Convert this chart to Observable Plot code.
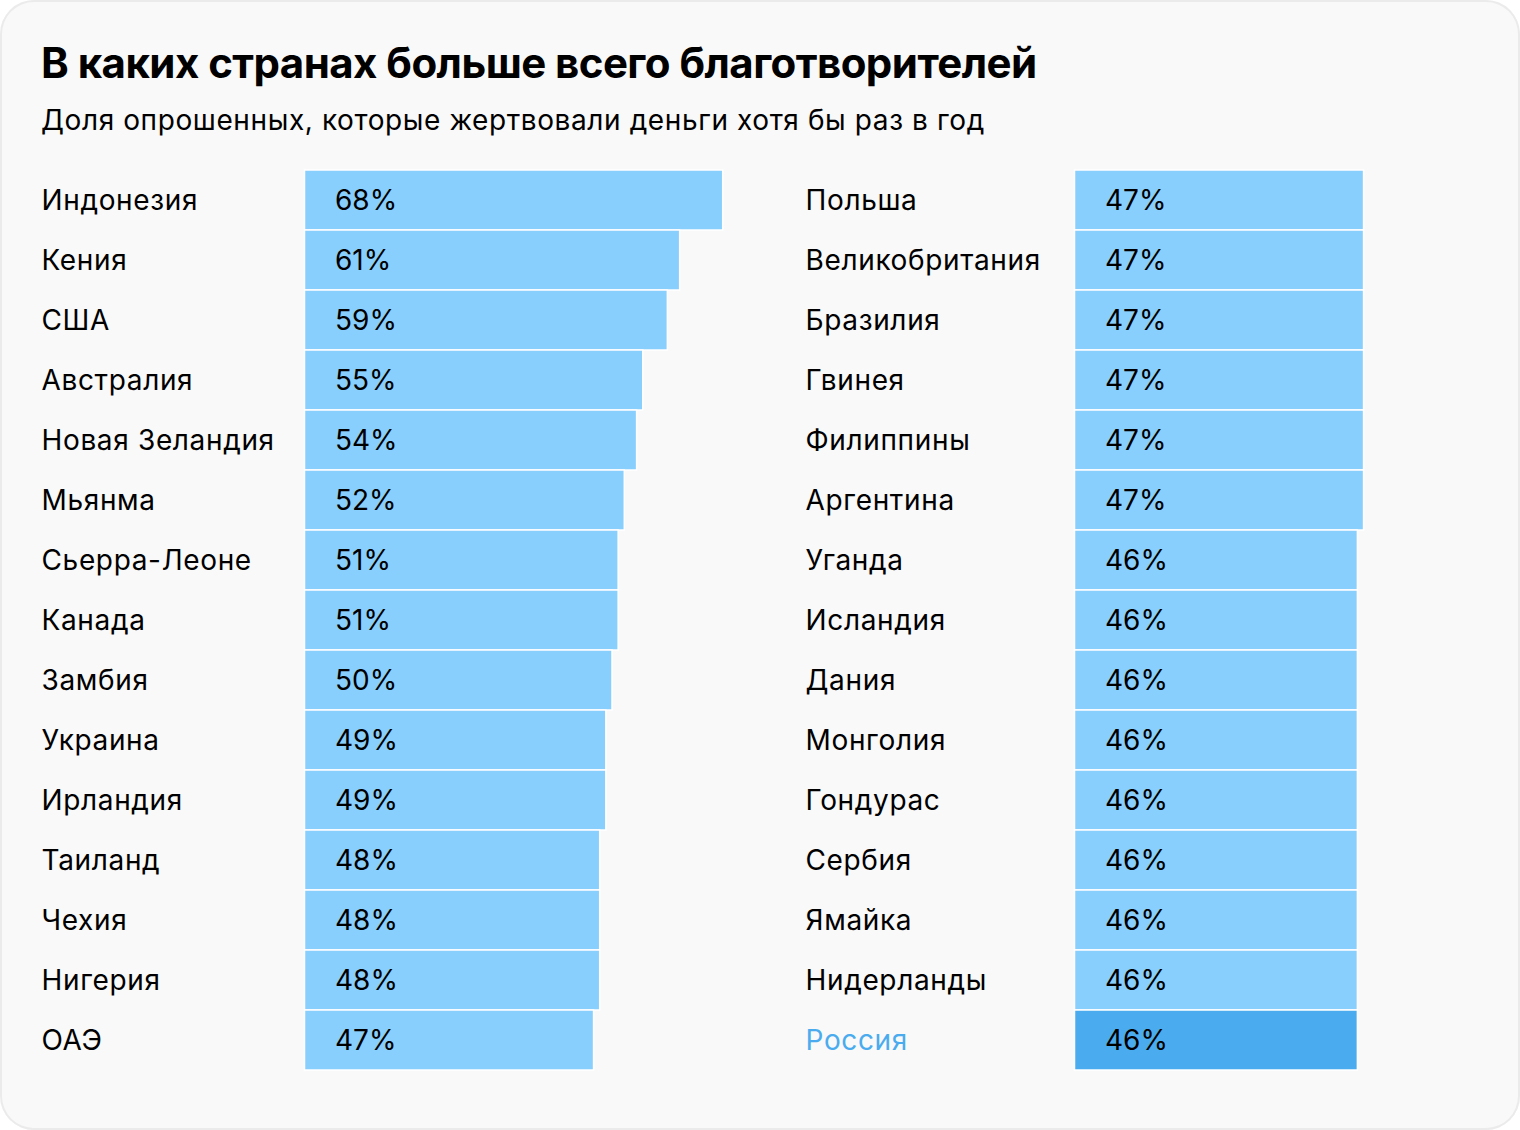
<!DOCTYPE html>
<html>
<head>
<meta charset="utf-8">
<script src="https://cdn.jsdelivr.net/npm/d3@7"></script>
<script src="https://cdn.jsdelivr.net/npm/@observablehq/plot@0.6"></script>
<style>
  html, body { margin: 0; padding: 0; background: #ffffff; }
  #card {
    position: absolute; left: 0; top: 0; width: 1520px; height: 1130px;
    box-sizing: border-box; box-shadow: inset 0 0 0 2px #ebebeb; border-radius: 34px;
    background: #f9f9f9; font-family: Inter, "Noto Sans", sans-serif; overflow: hidden;
  }
  #title {
    position: absolute; left: 41px; top: 39px; margin: 0;
    font-size: 42px; font-weight: 700; line-height: 48px; color: #000; letter-spacing: -0.55px;
    white-space: nowrap;
  }
  #subtitle {
    position: absolute; left: 41px; top: 103px; margin: 0;
    font-size: 28px; font-weight: 400; line-height: 34px; color: #000; white-space: nowrap;
    letter-spacing: 0.6px;
  }
  .col { position: absolute; top: 0; width: 770px; height: 1100px; }
  .col svg { overflow: visible; max-width: none !important; }
</style>
</head>
<body>
<div id="card">
  <div id="title">В каких странах больше всего благотворителей</div>
  <div id="subtitle">Доля опрошенных, которые жертвовали деньги хотя бы раз в год</div>
  <div class="col" id="left" style="left:0px"></div>
  <div class="col" id="right" style="left:770px"></div>
</div>
<script>
const leftCountries = ["Индонезия","Кения","США","Австралия","Новая Зеландия","Мьянма","Сьерра-Леоне","Канада","Замбия","Украина","Ирландия","Таиланд","Чехия","Нигерия","ОАЭ"];
const leftValues = [68,61,59,55,54,52,51,51,50,49,49,48,48,48,47];
const rightCountries = ["Польша","Великобритания","Бразилия","Гвинея","Филиппины","Аргентина","Уганда","Исландия","Дания","Монголия","Гондурас","Сербия","Ямайка","Нидерланды","Россия"];
const rightValues = [47,47,47,47,47,47,46,46,46,46,46,46,46,46,46];
const highlight = "Россия";

const barColor = "#88cffd";
const highlightColor = "#4aacee";

function makeColumn(countries, values, labelOffset) {
  const data = countries.map((c, i) => ({country: c, value: values[i]}));
  const svg = Plot.plot({
    width: 770,
    height: 1100,
    marginLeft: 305,
    marginRight: 0,
    marginTop: 170,
    marginBottom: 30,
    style: {background: "transparent", fontFamily: "Inter, 'Noto Sans', sans-serif", fontSize: "28px", color: "#000", maxWidth: "none"},
    x: {domain: [0, 75], range: [304.5, 304.5 + 75 * 6.15], axis: null},
    y: {domain: countries, range: [170, 1070], padding: 0, axis: null},
    marks: [
      Plot.barX(data, {
        y: "country", x: "value",
        fill: d => d.country === highlight ? highlightColor : barColor,
        stroke: "#ffffff", strokeWidth: 1.5
      }),
      Plot.text(data, {
        y: "country", text: d => d.value + "%",
        frameAnchor: "left", textAnchor: "start", dx: 29.5, dy: 1,
        fill: "#000", fontSize: 28
      }),
      Plot.text(data, {
        y: "country", text: "country",
        frameAnchor: "left", textAnchor: "start", dx: -labelOffset, dy: 1,
        fill: d => d.country === highlight ? highlightColor : "#000", fontSize: 28
      })
    ]
  });
  const textGroups = svg.querySelectorAll('g[aria-label="text"]');
  if (textGroups.length > 1) textGroups[1].setAttribute("letter-spacing", "0.65px");
  return svg;
}

document.getElementById("left").appendChild(makeColumn(leftCountries, leftValues, 264));
document.getElementById("right").appendChild(makeColumn(rightCountries, rightValues, 270));
</script>
</body>
</html>
